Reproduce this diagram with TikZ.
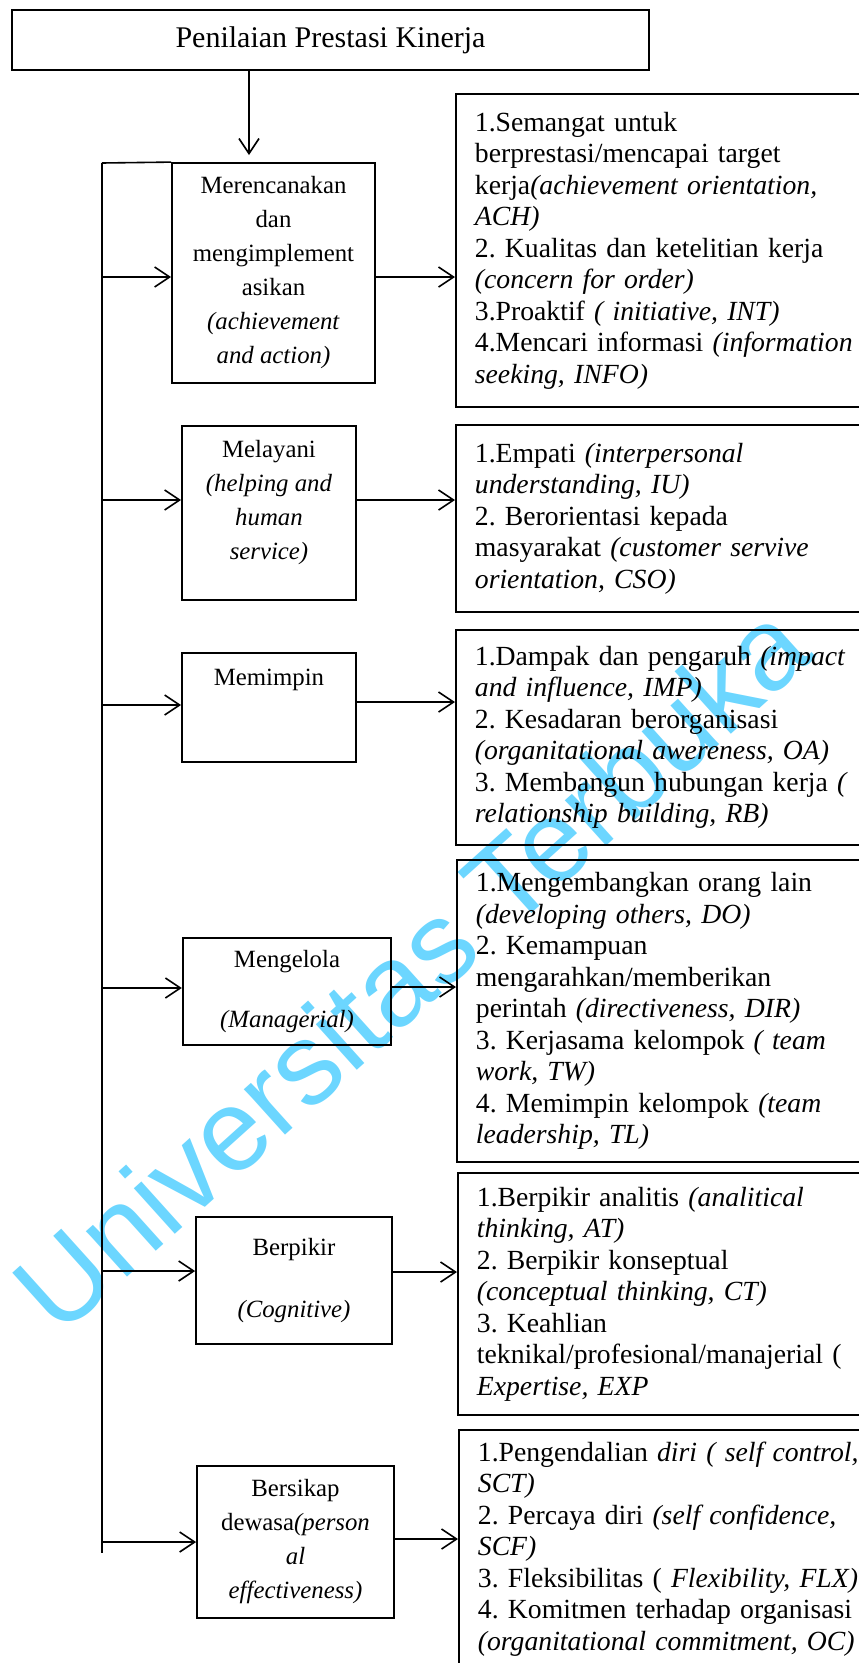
\documentclass[tikz,border=0pt]{standalone}
\usepackage{fontspec}
\setmainfont{Liberation Serif}
\newfontfamily\wmfont{Liberation Sans}
\usetikzlibrary{arrows.meta,calc}
\definecolor{wmark}{RGB}{108,214,255}
\frenchspacing

\begin{document}
\begin{tikzpicture}[x=1pt,y=1pt,yscale=-1,
  boxline/.style={draw,line width=1.8pt},
  headbox/.style={boxline,minimum width=637pt,minimum height=60pt,inner sep=0pt,font=\fontsize{30}{36}\selectfont},
  aspect/.style={boxline,inner sep=0pt,align=center,font=\fontsize{24.8}{34}\selectfont},
  itembox/.style={boxline,anchor=west,inner xsep=19pt,inner ysep=0pt,text width=400pt,align=left,font=\fontsize{27.7}{31.5}\selectfont},
  flow/.style={line width=1.6pt,-{Straight Barb[length=15pt,width=20pt]}},
  spine/.style={line width=1.6pt}]
\clip (0,0) rectangle (859,1663);

% Text Node (watermark)
\node[rotate=42,text=wmark,inner sep=0pt,font=\wmfont\fontsize{116}{116}\selectfont] (tanda) at (410,967) {Universitas Terbuka};

%Shape: Rectangle
\node[headbox] (judul) at (330.5,40) {Penilaian Prestasi Kinerja};
\coordinate (panah) at (249,155);
%Straight Lines
\draw[flow] (judul.south -| panah) -- (panah);

%Shape: Rectangle
\node[aspect,minimum width=203pt,minimum height=220pt] (b1) at (273.5,273) {Merencanakan\\dan\\mengimplement\\asikan\\\textit{(achievement}\\\textit{and action)}};
%Shape: Rectangle
\node[aspect,minimum width=174pt,minimum height=174pt] (b2) at (269,513) {Melayani\\\textit{(helping and}\\\textit{human}\\\textit{service)}\\[-7.6pt]\mbox{}};
%Shape: Rectangle
\node[aspect,minimum width=174pt,minimum height=109pt,text depth=60pt] (b3) at (269,707.5) {Memimpin};
%Shape: Rectangle
\node[aspect,minimum width=208.5pt,minimum height=107pt] (b4) at (287,991.5) {Mengelola\\[26pt]\textit{(Managerial)}};
%Shape: Rectangle
\node[aspect,minimum width=196pt,minimum height=127pt] (b5) at (294,1280.5) {Berpikir\\[28pt]\textit{(Cognitive)}};
%Shape: Rectangle
\node[aspect,minimum width=197pt,minimum height=152pt] (b6) at (295.5,1542) {Bersikap\\dewasa\textit{(person}\\\textit{al}\\\textit{effectiveness)}};

%Shape: Rectangle
\node[itembox,minimum height=313pt] (k1) at (455,250.5) {1.Semangat untuk\\berprestasi/mencapai target\\kerja\textit{(achievement orientation,}\\\textit{ACH)}\\2. Kualitas dan ketelitian kerja\\\textit{(concern for order)}\\3.Proaktif \textit{( initiative, INT)}\\4.Mencari informasi \textit{(information}\\\textit{seeking, INFO)}};
%Shape: Rectangle
\node[itembox,minimum height=187pt] (k2) at (455,518.5) {1.Empati \textit{(interpersonal}\\\textit{understanding, IU)}\\2. Berorientasi kepada\\masyarakat \textit{(customer servive}\\\textit{orientation, CSO)}};
%Shape: Rectangle
\node[itembox,minimum height=215pt] (k3) at (455,737.5) {1.Dampak dan pengaruh \textit{(impact}\\\textit{and influence, IMP)}\\2. Kesadaran berorganisasi\\\textit{(organitational awereness, OA)}\\3. Membangun hubungan kerja \textit{(}\\\textit{relationship building, RB)}};
%Shape: Rectangle
\node[itembox,minimum height=302pt] (k4) at (456,1011) {1.Mengembangkan orang lain\\\textit{(developing others, DO)}\\2. Kemampuan\\mengarahkan/memberikan\\perintah \textit{(directiveness, DIR)}\\3. Kerjasama kelompok \textit{( team}\\\textit{work, TW)}\\4. Memimpin kelompok \textit{(team}\\\textit{leadership, TL)}};
%Shape: Rectangle
\node[itembox,minimum height=242pt] (k5) at (457,1294) {1.Berpikir analitis \textit{(analitical}\\\textit{thinking, AT)}\\2. Berpikir konseptual\\\textit{(conceptual thinking, CT)}\\3. Keahlian\\teknikal/profesional/manajerial (\\\textit{Expertise, EXP}};
%Shape: Rectangle
\node[itembox,minimum height=238pt] (k6) at (458,1549) {1.Pengendalian \textit{diri ( self control,}\\\textit{SCT)}\\2. Percaya diri \textit{(self confidence,}\\\textit{SCF)}\\3. Fleksibilitas ( \textit{Flexibility, FLX)}\\4. Komitmen terhadap organisasi\\\textit{(organitational commitment, OC)}};

%Straight Lines
\coordinate (spinetop) at (102,163);
\coordinate (spinebot) at (102,1553);
\draw[spine] (spinetop) -- (spinebot);
\draw[spine] (spinetop) -- (b1.north west);

%Straight Lines
\coordinate (b1in) at ($(b1.west)+(0,4)$);
\draw[flow] (spinetop |- b1in) -- (b1in);
\coordinate (b2in) at ($(b2.west)+(0,-13)$);
\draw[flow] (spinetop |- b2in) -- (b2in);
\coordinate (b3in) at ($(b3.west)+(0,-2.5)$);
\draw[flow] (spinetop |- b3in) -- (b3in);
\coordinate (b4in) at ($(b4.west)+(0,-3.5)$);
\draw[flow] (spinetop |- b4in) -- (b4in);
\coordinate (b5in) at ($(b5.west)+(0,-9.5)$);
\draw[flow] (spinetop |- b5in) -- (b5in);
\coordinate (b6in) at ($(b6.west)+(0,0)$);
\draw[flow] (spinetop |- b6in) -- (b6in);

%Straight Lines
\coordinate (b1out) at ($(b1.east)+(0,4)$);
\draw[flow] (b1out) -- (b1out -| k1.west);
\coordinate (b2out) at ($(b2.east)+(0,-13)$);
\draw[flow] (b2out) -- (b2out -| k2.west);
\coordinate (b3out) at ($(b3.east)+(0,-5.5)$);
\draw[flow] (b3out) -- (b3out -| k3.west);
\coordinate (b4out) at ($(b4.east)+(0,-4.5)$);
\draw[flow] (b4out) -- (b4out -| k4.west);
\coordinate (b5out) at ($(b5.east)+(0,-8.5)$);
\draw[flow] (b5out) -- (b5out -| k5.west);
\coordinate (b6out) at ($(b6.east)+(0,-3)$);
\draw[flow] (b6out) -- (b6out -| k6.west);

\end{tikzpicture}
\end{document}
